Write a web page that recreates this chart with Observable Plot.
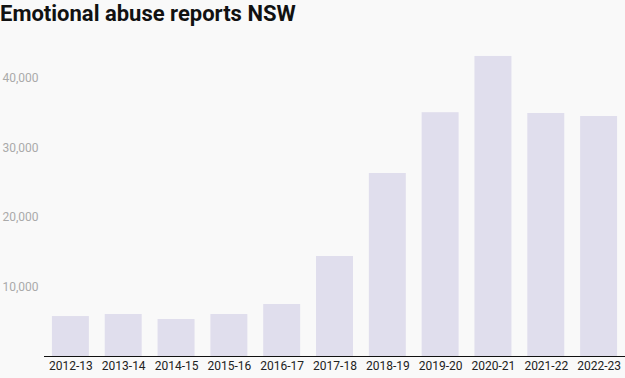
<!DOCTYPE html>
<html>
<head>
<meta charset="utf-8">
<script src="https://cdn.jsdelivr.net/npm/d3@7"></script>
<script src="https://cdn.jsdelivr.net/npm/@observablehq/plot@0.6"></script>
<style>
  html, body { margin: 0; padding: 0; background: #f9f9f9; }
  body { width: 625px; height: 378px; overflow: hidden; font-family: Roboto, sans-serif; }
  #title { height: 40px; margin: 0; font-size: 22px; font-weight: 700; line-height: 27px; color: #111; }
  svg { display: block; }
</style>
</head>
<body>
<div id="title">Emotional abuse reports NSW</div>
<div id="chart"></div>
<script>
const years = ["2012-13","2013-14","2014-15","2015-16","2016-17","2017-18","2018-19","2019-20","2020-21","2021-22","2022-23"];
const reports = [5750, 6040, 5320, 6040, 7480, 14390, 26330, 35080, 43170, 34960, 34530];
const yTicks = [10000, 20000, 30000, 40000];

const data = years.map((y, i) => ({year: y, value: reports[i]}));

const chart = Plot.plot({
  width: 625,
  height: 338,
  marginTop: 3.25,
  marginBottom: 22,
  marginLeft: 44,
  marginRight: 0,
  style: {background: "#f9f9f9", fontFamily: "Roboto, sans-serif", fontSize: "12px"},
  x: {domain: years, paddingInner: 0.3, paddingOuter: 0.15, round: false, label: null},
  y: {domain: [0, 45000], label: null},
  marks: [
    Plot.barY(data, {x: "year", y: "value", fill: "#e0deed"}),
    Plot.ruleY([0], {stroke: "#111", strokeWidth: 1.2}),
    Plot.axisX({tickSize: 0, tickPadding: 5, fill: "#222", fontSize: 12, label: null}),
    Plot.axisY(yTicks, {tickSize: 0, tickPadding: 6, fill: "#aaa", fontSize: 12, label: null, tickFormat: d3.format(",")})
  ]
});
document.getElementById("chart").appendChild(chart);
</script>
</body>
</html>
